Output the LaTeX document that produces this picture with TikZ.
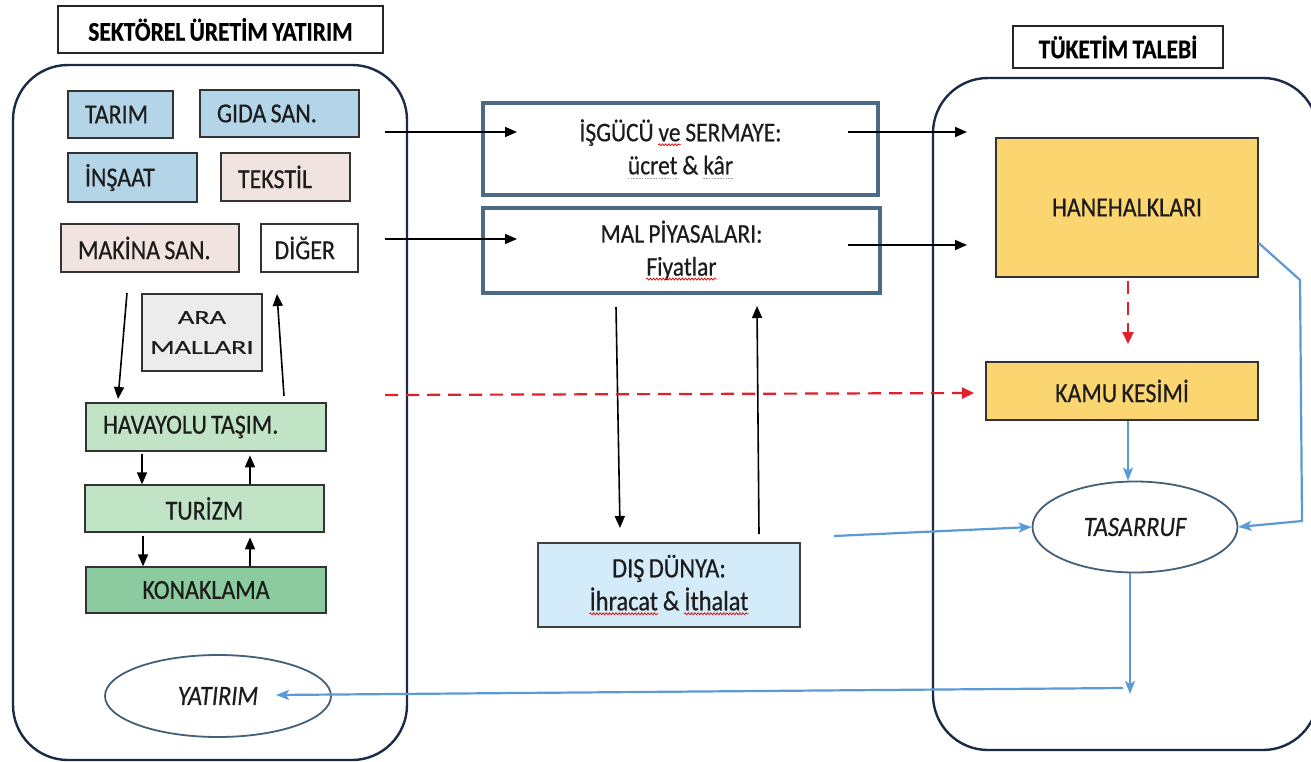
\documentclass[tikz,border=0pt]{standalone}
\usepackage{fontspec}
\setmainfont{Carlito}[FakeStretch=0.87, WordSpace=0.8, FakeBold=0.5]
\newfontfamily\arafont{Carlito}[FakeStretch=1.45, FakeBold=0.4]
\usetikzlibrary{arrows.meta,shapes.geometric,calc,decorations.pathmorphing}
\newcommand\redwave[1]{\tikz[x=1pt,y=1pt,baseline=(w.base)]{\node[inner sep=0pt,draw=none,fill=none,minimum width=0pt,minimum height=0pt](w){#1};\draw[draw=red!85!black,line width=0.7pt,decorate,decoration={snake,amplitude=1pt,segment length=3.2pt}] ([yshift=-3.5pt]w.base west) -- ([yshift=-3.5pt]w.base east);}}
\newcommand\dotline[1]{\tikz[x=1pt,y=1pt,baseline=(w.base)]{\node[inner sep=0pt,draw=none,fill=none,minimum width=0pt,minimum height=0pt](w){#1};\draw[draw=gray!70,line width=0.9pt,dash pattern=on 1.6pt off 1.2pt] ([yshift=-4pt]w.base west) -- ([yshift=-4pt]w.base east);}}
\definecolor{navy}{HTML}{1B2A47}
\definecolor{steel}{HTML}{4C6A85}
\definecolor{sblue}{HTML}{B4D5E8}
\definecolor{spink}{HTML}{F1E3E0}
\definecolor{sgray}{HTML}{ECECEC}
\definecolor{sgreen}{HTML}{C1E3C6}
\definecolor{sgreendk}{HTML}{8CCB9F}
\definecolor{sdis}{HTML}{D4EBF9}
\definecolor{sgold}{HTML}{FBD670}
\definecolor{lblue}{HTML}{5B9BD5}
\definecolor{dred}{HTML}{E0202A}
\definecolor{txt}{HTML}{1C1C1C}
\tikzset{
  boxbase/.style={draw=black!80, line width=1.3pt, inner sep=0pt, text=txt, font=\fontsize{27.5}{32}\selectfont},
  cbox/.style={boxbase, align=center},
  lbox/.style={boxbase, inner xsep=17pt, align=left, execute at begin node={\spaceskip=0pt\xspaceskip=0pt}},
  titlebox/.style={draw=black!85, line width=1.2pt, inner sep=0pt, font=\fontsize{27}{32}\selectfont\bfseries},
  panel/.style={draw=navy, line width=2.4pt, rounded corners=55pt, inner sep=0pt},
  market/.style={draw=steel, line width=3.2pt, inner sep=0pt, align=center, text=txt, font=\fontsize{27}{35}\selectfont},
  oval/.style={ellipse, draw=steel!90!black, line width=1.8pt, inner sep=0pt, font=\fontsize{28}{32}\selectfont\itshape, text=txt},
  blk/.style={draw=black, line width=1.6pt, -{Triangle[length=12pt,width=10pt]}},
  red dash/.style={draw=dred, line width=2.2pt, dash pattern=on 13pt off 8pt, -{Triangle[length=12pt,width=11pt]}},
  blu/.style={draw=lblue, line width=2.2pt, -{Stealth[length=13pt,width=10pt,inset=3pt]}}
}
\begin{document}
\begin{tikzpicture}[x=1pt,y=-1pt]
\useasboundingbox[fill=white] (0,0) rectangle (1311,762);
\begin{scope}
\clip (0,0) rectangle (1311,762);
% panels
\node[panel, minimum width=394, minimum height=695] (lpanel) at (210,412.5) {};
\node[panel, minimum width=385, minimum height=672] (rpanel) at (1125.5,414) {};
\end{scope}
% titles
\node[titlebox, minimum width=325, minimum height=47] (t1) at (220.5,29.5) {SEKTÖREL ÜRETİM YATIRIM};
\node[titlebox, minimum width=210, minimum height=42] (t2) at (1118,47) {TÜKETİM TALEBİ};
% sector boxes
\node[lbox, fill=sblue, text width=71, minimum height=47] (tarim) at (120.5,114.5) {TARIM};
\node[lbox, fill=sblue, text width=125, minimum height=47] (gida) at (279.5,113.5) {GIDA SAN.};
\node[lbox, fill=sblue, text width=95, minimum height=49] (insaat) at (132.5,177.5) {İNŞAAT};
\node[lbox, fill=spink, text width=95, minimum height=48] (tekstil) at (285.5,177) {TEKSTİL};
\node[lbox, fill=spink, text width=144, minimum height=48] (makina) at (150,248) {MAKİNA SAN.};
\node[lbox, fill=white, text width=70, inner xsep=13.5pt, minimum height=48] (diger) at (309.5,248) {DİĞER};
\node[cbox, fill=sgray, minimum width=120, minimum height=77, font=\arafont\fontsize{19.5}{30}\selectfont] (ara) at (202,332.5) {ARA\\MALLARI};
\node[lbox, fill=sgreen, text width=206, minimum height=48] (hav) at (206,427) {HAVAYOLU TAŞIM.};
\node[cbox, fill=sgreen, minimum width=239, minimum height=47] (tur) at (204.5,508.5) {TURİZM};
\node[cbox, fill=sgreendk, minimum width=240, minimum height=46] (kon) at (206,590) {KONAKLAMA};
\node[oval, minimum width=226, minimum height=82] (yat) at (218,696) {YATIRIM};
% markets
\node[market, minimum width=395, minimum height=92] (isg) at (680.5,149) {İŞGÜCÜ \redwave{ve} SERMAYE:\\[-2pt]\dotline{ücret} \& \dotline{kâr}};
\node[market, minimum width=397, minimum height=85] (mal) at (681.5,250.5) {MAL PİYASALARI:\\[-2pt]\redwave{Fiyatlar}};
\node[cbox, fill=sdis, draw=black!75, line width=1.2pt, minimum width=262, minimum height=84, font=\fontsize{28}{33}\selectfont] (dis) at (669,585) {DIŞ DÜNYA:\\\redwave{İhracat} \& \redwave{İthalat}};
% consumption side
\node[cbox, fill=sgold, minimum width=262, minimum height=139] (hane) at (1127,207.5) {HANEHALKLARI};
\node[cbox, fill=sgold, minimum width=272, minimum height=58] (kamu) at (1122,391) {KAMU KESİMİ};
\node[oval, minimum width=205, minimum height=91] (tas) at (1135,527) {TASARRUF};
% free ends
\coordinate (a1s) at (385,132); \coordinate (a1e) at (517,132);
\coordinate (a2s) at (385,239); \coordinate (a2e) at (517,239);
\coordinate (a3s) at (848,132); \coordinate (a3e) at (967,132);
\coordinate (a4s) at (848,245); \coordinate (a4e) at (967,245);
\coordinate (r1s) at (385,395); \coordinate (r1e) at (974,393);
\coordinate (r2e) at (1128,344);
\coordinate (d1s) at (127,293); \coordinate (d1e) at (118,399);
\coordinate (u1s) at (284,396); \coordinate (u1e) at (277,294);
\coordinate (m1s) at (616,307); \coordinate (m1e) at (620,528);
\coordinate (m2s) at (759,534); \coordinate (m2e) at (757,306);
\coordinate (b1s) at (834,536);
\coordinate (h1) at (1300,280); \coordinate (h2) at (1302,521);
\coordinate (b4e) at (1130,694);
\coordinate (b5s) at (1123,688); \coordinate (b5e) at (276,695);
% black arrows
\draw[blk] (a1s) -- (a1e);
\draw[blk] (a2s) -- (a2e);
\draw[blk] (a3s) -- (a3e);
\draw[blk] (a4s) -- (a4e);
\draw[blk] (d1s) -- (d1e);
\draw[blk] (u1s) -- (u1e);
\draw[blk] ([yshift=-2pt]hav.south -| 142,0) -- (tur.north -| 142,0);
\draw[blk] (tur.north -| 250,0) -- ++(0,-29);
\draw[blk] ([yshift=-3pt]tur.south -| 143,0) -- (kon.north -| 143,0);
\draw[blk] (kon.north -| 250,0) -- ++(0,-29);
\draw[blk] (m1s) -- (m1e);
\draw[blk] (m2s) -- (m2e);
% red dashed
\draw[red dash] ([yshift=-3pt]hane.south -| r2e) -- (r2e);
\draw[red dash] (r1s) -- (r1e);
% blue
\draw[blu] (b1s) -- (tas.west);
\draw[blu] (kamu.south -| 1128,0) -- (tas.north -| 1128,0);
\draw[blu] (hane.east |- 0,243) -- (h1) -- (h2) -- (tas.east);
\draw[blu] (tas.south -| b4e) -- (b4e);
\draw[blu] (b5s) -- (b5e);
\end{tikzpicture}
\end{document}
